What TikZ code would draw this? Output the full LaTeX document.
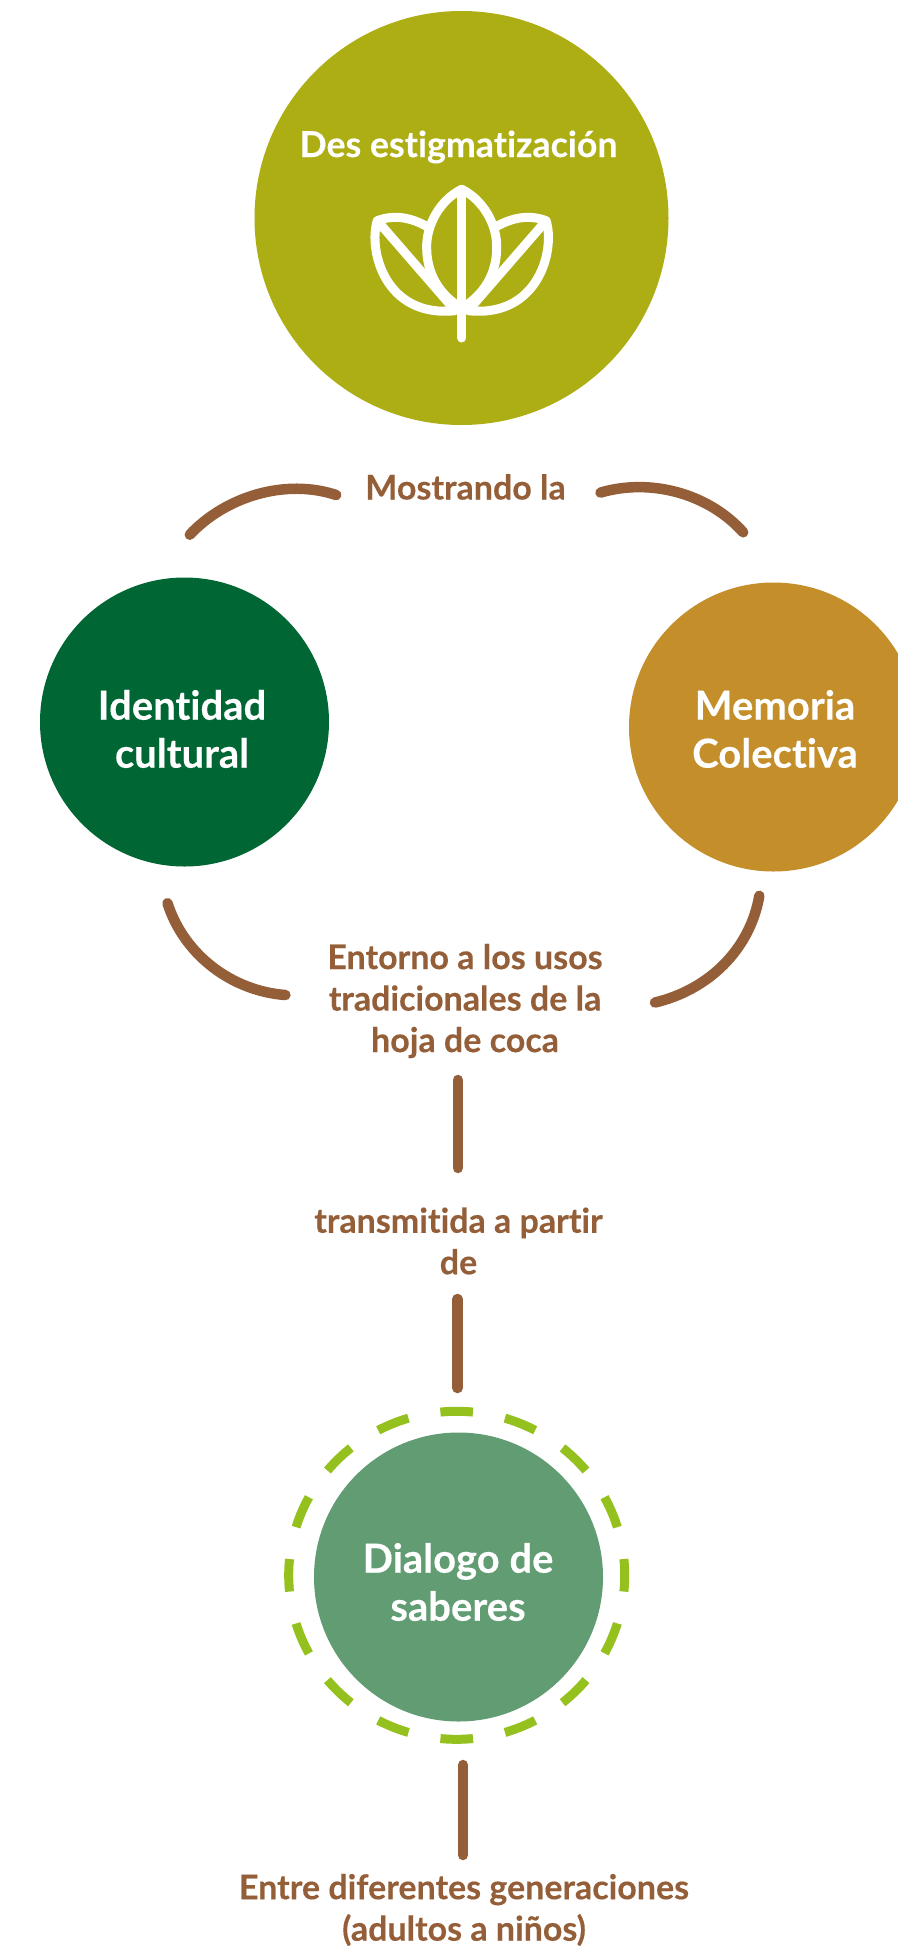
\documentclass[tikz,border=0pt]{standalone}
\usetikzlibrary{shapes.geometric}
\usepackage{fontspec}
\setmainfont{Lato}[BoldFont={Lato Bold},BoldFeatures={FakeBold=0.25},Ligatures=NoCommon]
\definecolor{olivec}{RGB}{173,173,20}
\definecolor{greenc}{RGB}{0,102,51}
\definecolor{goldc}{RGB}{196,143,42}
\definecolor{sagec}{RGB}{97,156,114}
\definecolor{limec}{RGB}{149,193,31}
\definecolor{brownc}{RGB}{148,95,56}
\tikzset{
  disc/.style={circle,inner sep=0pt,draw=none},
  dtxt/.style={inner sep=0pt,text=white,align=center,font=\fontsize{40}{48}\selectfont\bfseries},
  lbl/.style={inner sep=0pt,text=brownc,align=center,font=\fontsize{34}{41.5}\selectfont\bfseries},
  link/.style={draw=brownc,line width=10.5pt,line cap=round},
  leaf/.style={draw=white,line width=9pt,line join=round,line cap=round}
}
\begin{document}
\begin{tikzpicture}[x=1pt,y=-1pt]
\useasboundingbox (0,0) rectangle (897,1946);
\fill[white] (0,0) rectangle (897,1946);
% discs
\node[disc,fill=olivec,minimum size=414pt] (top) at (461.5,218) {};
\node[disc,fill=greenc,minimum size=289pt] (ident) at (184.5,722) {};
\node[disc,fill=goldc,minimum size=289pt] (mem) at (773.5,727) {};
\node[disc,fill=sagec,minimum size=289pt] (dial) at (458.5,1577) {};
\node[ellipse,inner sep=0pt,minimum width=336pt,minimum height=328pt,draw=limec,line width=9pt,dash pattern=on 32.6pt off 32.6pt,dash phase=16.3pt] (ring) at (456.7,1575.3) {};
% disc texts
\node[dtxt,font=\fontsize{35.7}{40}\selectfont\bfseries] (ttop) at (458.5,147) {Des estigmatización};
\node[dtxt] (tident) at (182,729) {Identidad\\cultural};
\node[dtxt] (tmem) at (775,729) {Memoria\\Colectiva};
\node[dtxt] (tdial) at (458,1582) {Dialogo de\\saberes};
% leaf icon
\draw[leaf] (461.7,189.3) .. controls (440,200) and (426,225) .. (426.7,248.3) .. controls (427,275) and (440,295) .. (461.7,308.3)
  .. controls (483.4,295) and (496.4,275) .. (496.7,248.3) .. controls (497.4,225) and (483.4,200) .. (461.7,189.3);
\draw[leaf] (461.7,189.3) -- (461.7,338);
\draw[leaf] (427.3,226.7) .. controls (412,218) and (395,214) .. (377.3,220.7) .. controls (368,250) and (385,318) .. (455,310.7);
\draw[leaf] (496.1,226.7) .. controls (511.4,218) and (528.4,214) .. (546.1,220.7) .. controls (555.4,250) and (538.4,318) .. (468.4,310.7);
\draw[leaf] (381,225) -- (453,308);
\draw[leaf] (542.4,225) -- (470.4,308);
% labels
\node[lbl] (l1) at (465.5,487) {Mostrando la};
\node[lbl] (l2) at (465,1001) {Entorno a los usos\\tradicionales de la\\hoja de coca};
\node[lbl] (l3) at (458.5,1241) {transmitida a partir\\de};
\node[lbl] (l4) at (464,1910) {Entre diferentes generaciones\\(adultos a niños)};
% connectors
\coordinate (a1) at (189.8,534.7); \coordinate (a2) at (336.2,495);
\coordinate (b1) at (600.5,492.6); \coordinate (b2) at (743.2,532.3);
\coordinate (c1) at (167.5,903.2); \coordinate (c2) at (285.4,995);
\coordinate (d1) at (759.3,895.8); \coordinate (d2) at (655,1002.5);
\draw[link] (a1) .. controls (225,497) and (285,478) .. (a2);
\draw[link] (b1) .. controls (650,478) and (708,493) .. (b2);
\draw[link] (c1) .. controls (184,955) and (232,991) .. (c2);
\draw[link] (d1) .. controls (750,950) and (708,990) .. (d2);
\coordinate (e1) at (457.8,1080); \coordinate (e2) at (457.8,1168);
\coordinate (f1) at (457.5,1299); \coordinate (f2) at (457.5,1388);
\coordinate (g1) at (463,1765);   \coordinate (g2) at (463,1855);
\draw[link] (e1) -- (e2);
\draw[link] (f1) -- (f2);
\draw[link] (g1) -- (g2);
\end{tikzpicture}
\end{document}
